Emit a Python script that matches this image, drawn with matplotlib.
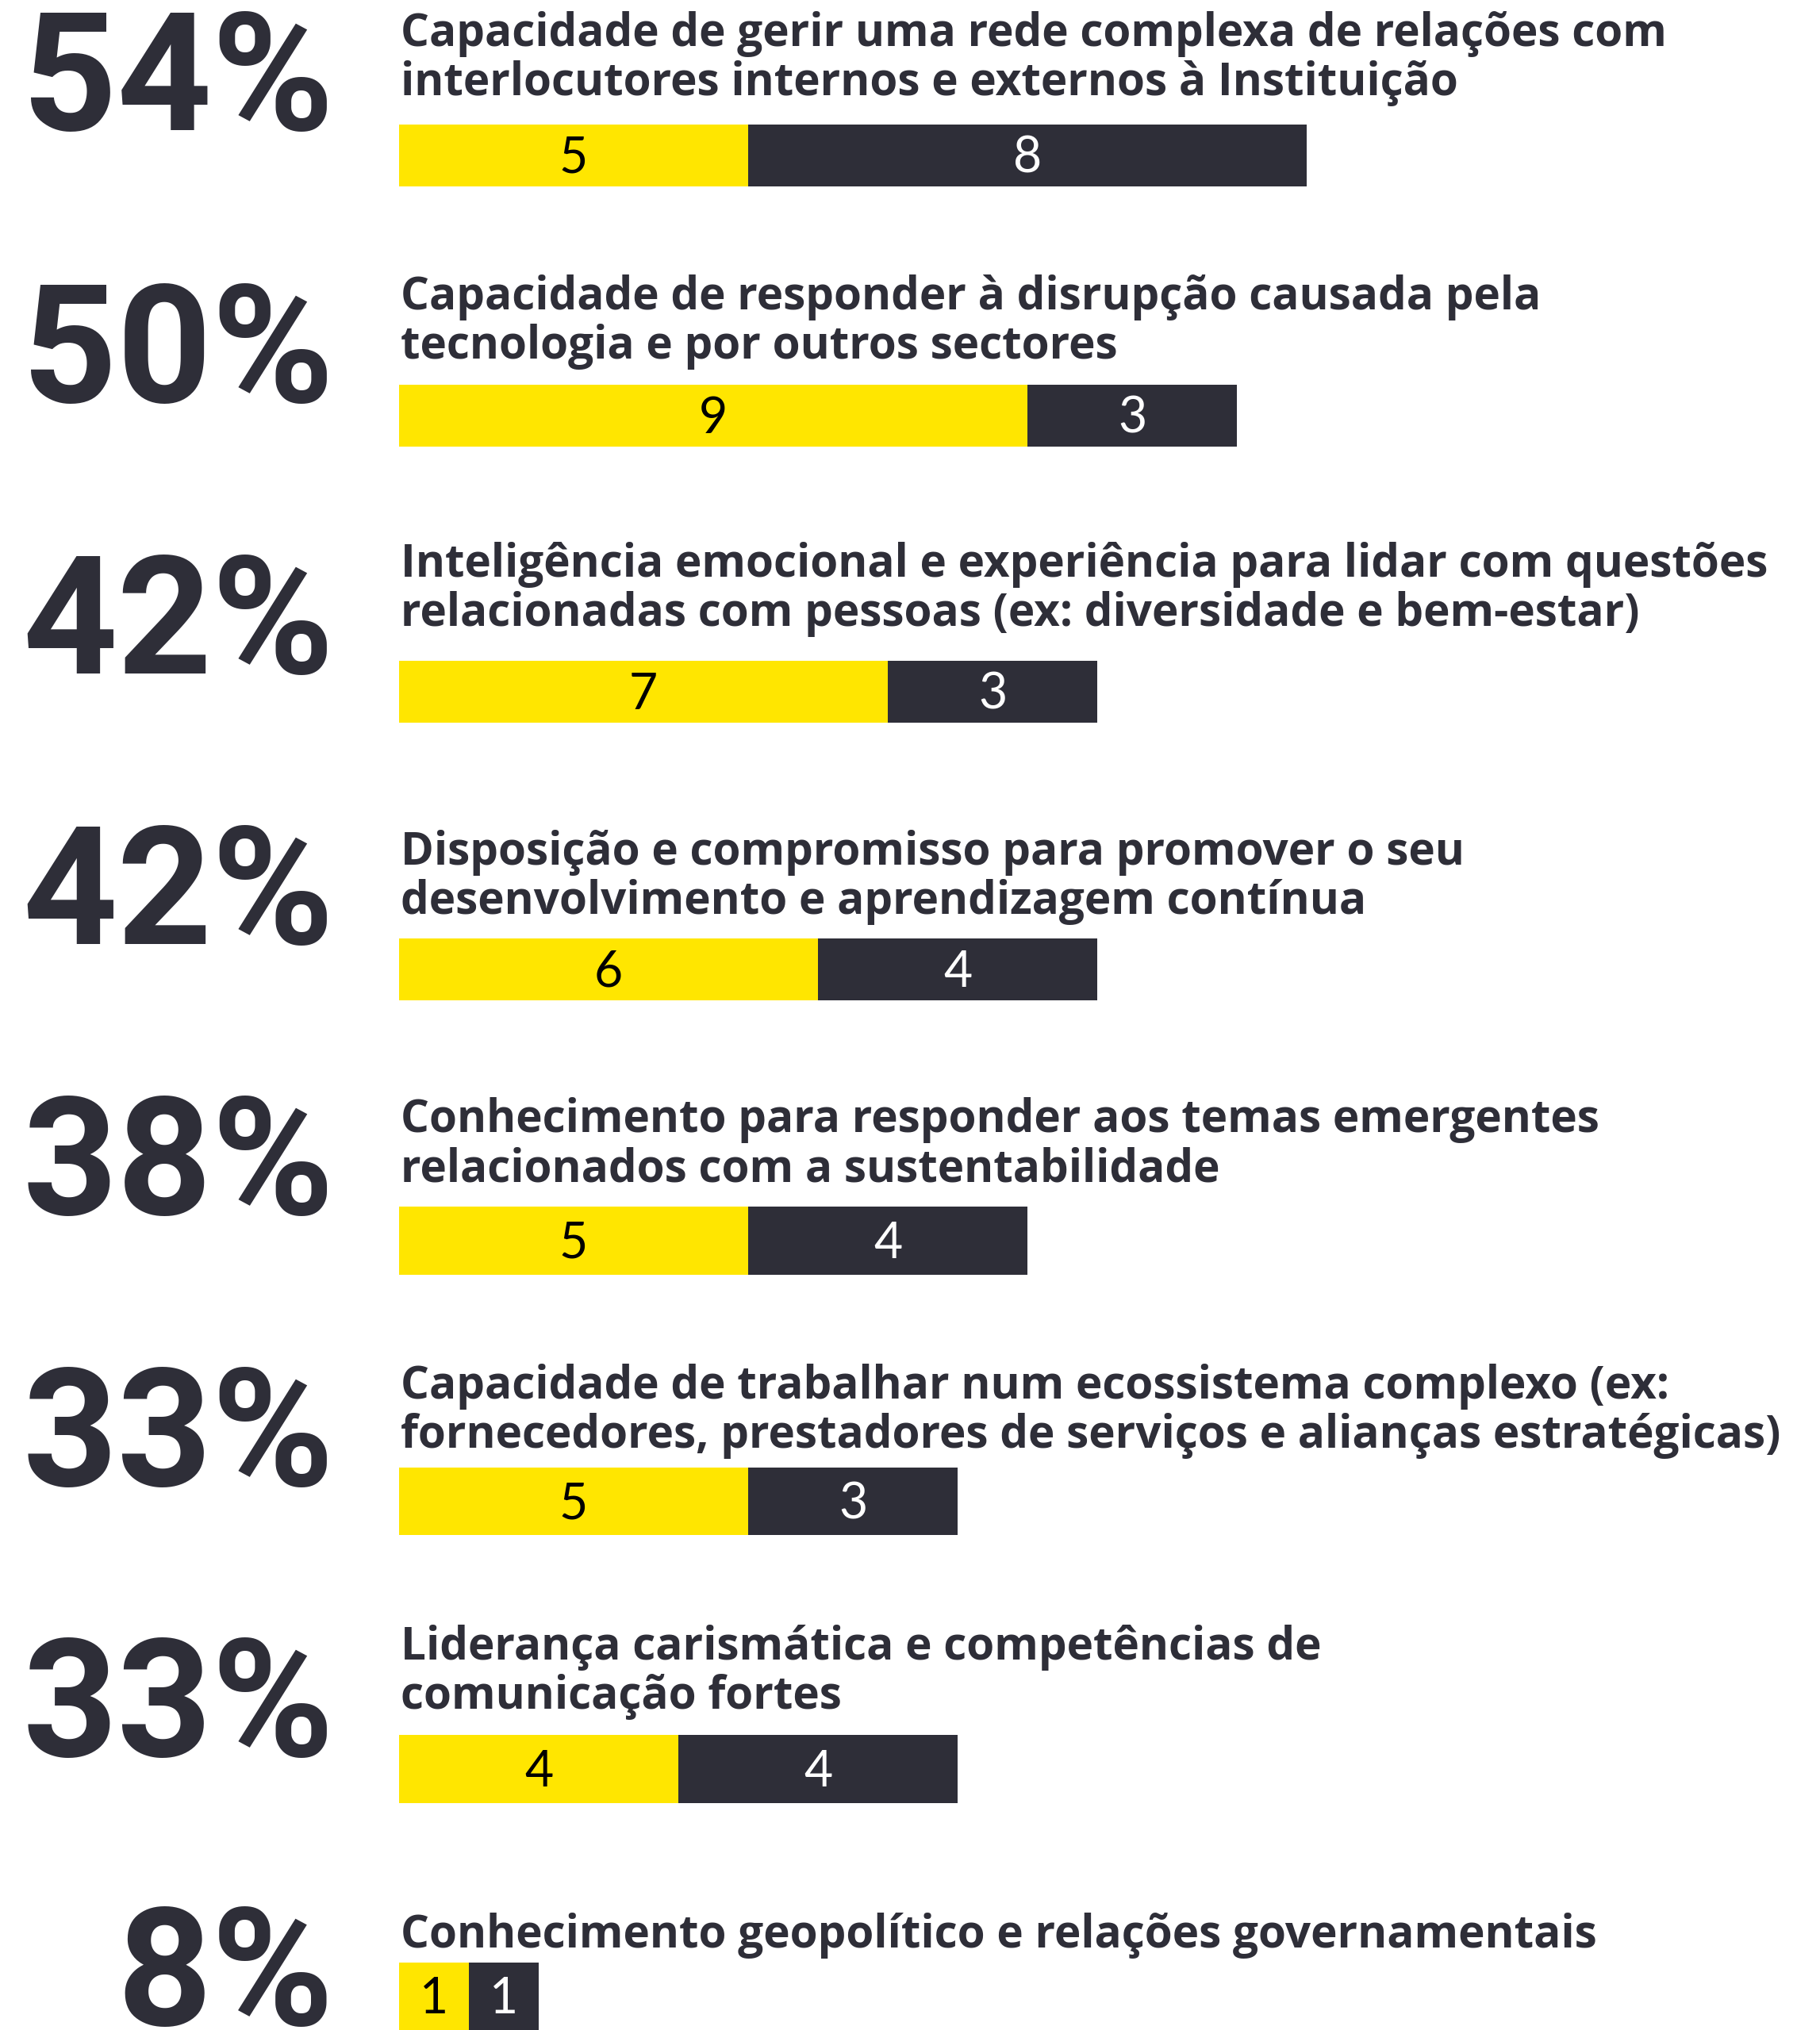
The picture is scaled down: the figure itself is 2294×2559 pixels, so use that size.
import matplotlib.pyplot as plt

# Dados: percentagem, descrição e repartição das respostas
percentagens = [54, 50, 42, 42, 38, 33, 33, 8]
descricoes = [
    "Capacidade de gerir uma rede complexa de relações com\ninterlocutores internos e externos à Instituição",
    "Capacidade de responder à disrupção causada pela\ntecnologia e por outros sectores",
    "Inteligência emocional e experiência para lidar com questões\nrelacionadas com pessoas (ex: diversidade e bem-estar)",
    "Disposição e compromisso para promover o seu\ndesenvolvimento e aprendizagem contínua",
    "Conhecimento para responder aos temas emergentes\nrelacionados com a sustentabilidade",
    "Capacidade de trabalhar num ecossistema complexo (ex:\nfornecedores, prestadores de serviços e alianças estratégicas)",
    "Liderança carismática e competências de\ncomunicação fortes",
    "Conhecimento geopolítico e relações governamentais",
]
amarelo_vals = [5, 9, 7, 6, 5, 5, 4, 1]
escuro_vals = [8, 3, 3, 4, 4, 3, 4, 1]

# Layout em pixels (origem no topo)
W, H = 2294, 2559
base_texto = [58, 390, 727, 1090, 1427, 1763, 2092, 2455]
base_pct = [164, 507, 849, 1190, 1531, 1873, 2214, 2553]
topo_barra = [157, 485, 833, 1183, 1521, 1850, 2187, 2474]
alt_barra = [78, 78, 78, 78, 86, 85, 86, 85]
entrelinha = 62

X0 = 503      # início das barras
UNID = 88     # pixels por resposta

AMARELO = "#FFE600"
ESCURO = "#2E2E38"

fig = plt.figure(figsize=(W / 100, H / 100), dpi=100)
ax = fig.add_axes([0, 0, 1, 1])
ax.set_xlim(-X0 / UNID, (W - X0) / UNID)
ax.set_ylim(H, 0)
ax.axis("off")


def px(x):
    return (x - X0) / UNID


centros = [t + h / 2 for t, h in zip(topo_barra, alt_barra)]

ax.barh(centros, amarelo_vals, height=alt_barra, left=0, color=AMARELO, linewidth=0)
ax.barh(centros, escuro_vals, height=alt_barra, left=amarelo_vals, color=ESCURO, linewidth=0)

for i in range(len(percentagens)):
    ax.text(px(421), base_pct[i], f"{percentagens[i]}%", ha="right", va="baseline",
            fontsize=150, fontweight="bold", family="Roboto", color=ESCURO)

    for j, linha in enumerate(descricoes[i].split("\n")):
        ax.text(px(505), base_texto[i] + j * entrelinha, linha, ha="left", va="baseline",
                fontsize=40.8, fontweight="bold", family="Open Sans", color=ESCURO)

    yb = centros[i] + 22
    a, e = amarelo_vals[i], escuro_vals[i]
    ax.text(a / 2, yb, str(a), ha="center", va="baseline",
            fontsize=45, fontweight="normal", family="Lato", color="black")
    ax.text(a + e / 2, yb, str(e), ha="center", va="baseline",
            fontsize=45, fontweight="normal", family="Lato", color="white")

fig.savefig("out.png", dpi=100, facecolor="white")
